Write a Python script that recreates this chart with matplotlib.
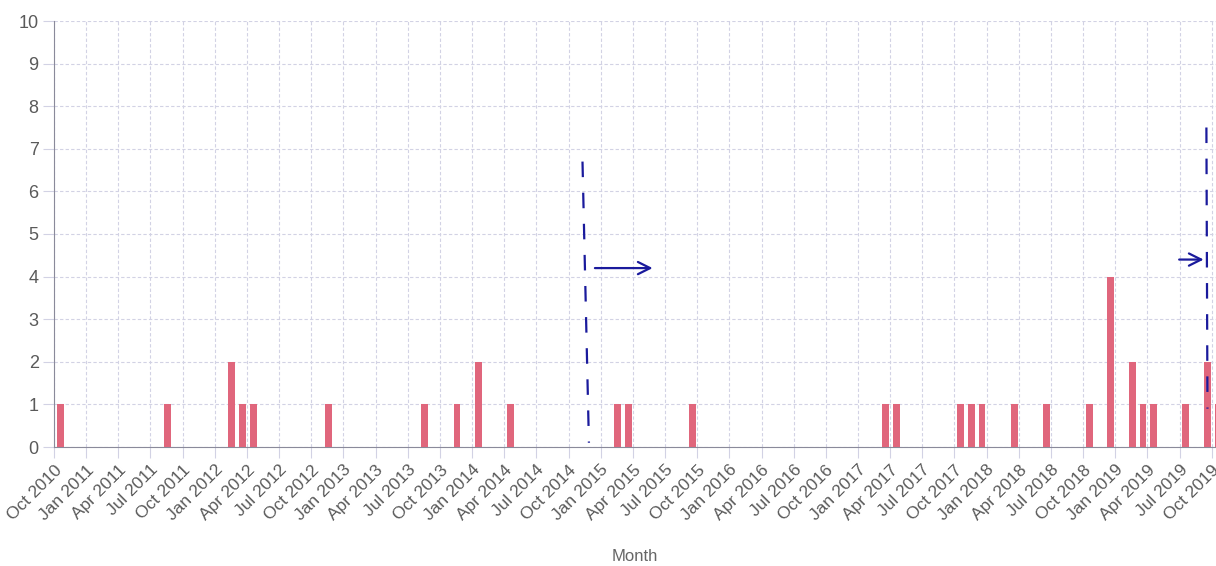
import matplotlib
matplotlib.use("Agg")
import matplotlib.pyplot as plt
import pandas as pd

plt.rcParams['font.family'] = ['Liberation Sans Narrow', 'Liberation Sans', 'DejaVu Sans']

# 막대 데이터 (0이 아닌 달만)
bar_months = ['2010-10', '2011-08', '2012-02', '2012-03', '2012-04', '2012-11',
              '2013-08', '2013-11', '2014-01', '2014-04', '2015-02', '2015-03',
              '2015-09', '2017-03', '2017-04', '2017-10', '2017-11', '2017-12',
              '2018-03', '2018-06', '2018-10', '2018-12', '2019-02', '2019-03',
              '2019-04', '2019-07', '2019-09', '2019-10']
bar_counts = [1, 1, 2, 1, 1, 1,
              1, 1, 2, 1, 1, 1,
              1, 1, 1, 1, 1, 1,
              1, 1, 1, 4, 2, 1,
              1, 1, 2, 1]

start_month = pd.Period('2010-10', freq='M')
tick_months = list(pd.period_range('2010-10', '2019-10', freq='M'))[::3]
tick_labels = [p.strftime('%b %Y') for p in tick_months]
y_ticks = list(range(0, 11))

# 손글씨 표시 (파란 점선 + 화살표)
marks_x = [[49.3, 49.9], [107.5, 107.6]]
marks_y = [[6.7, 0.1], [7.5, 0.9]]
arrows = [(50.2, 56.1, 4.2), (104.7, 107.5, 4.4)]

bar_color = '#e0667c'
grid_color = '#d2d2e4'
text_color = '#5a5a5a'

fig = plt.figure(figsize=(12.16, 5.66), dpi=100)
ax = fig.add_axes([54 / 1216, 119 / 566, 1162 / 1216, 426 / 566])

x_pos = [(pd.Period(m, freq='M') - start_month).n + 0.58 for m in bar_months]
ax.bar(x_pos, bar_counts, width=0.62, color=bar_color, zorder=3)

ax.set_xlim(0, 1162 / 10.72)
ax.set_ylim(0, 10)

tick_pos = [(p - start_month).n for p in tick_months]
ax.set_xticks(tick_pos)
ax.set_xticklabels(tick_labels, rotation=45, ha='right', va='top',
                   rotation_mode='anchor', fontsize=12.5, color=text_color)
ax.set_yticks(y_ticks)
ax.set_yticklabels([str(v) for v in y_ticks], fontsize=13, color=text_color)

ax.tick_params(axis='both', length=8, color=grid_color, width=0.8)
ax.tick_params(axis='x', pad=3)
ax.tick_params(axis='y', pad=3)

ax.grid(True, color=grid_color, linestyle=(0, (3, 2)), linewidth=0.8, zorder=0)
ax.set_axisbelow(True)

for side in ['top', 'right']:
    ax.spines[side].set_visible(False)
ax.spines['left'].set_color('#8a8a9a')
ax.spines['bottom'].set_color('#8a8a9a')

ax.set_xlabel('Month', fontsize=12, color='#666666', labelpad=18)

# 손글씨 주석
for xs, ys in zip(marks_x, marks_y):
    ax.plot(xs, ys, color='#1a1a9c', linewidth=1.6, linestyle=(0, (7, 7)), zorder=4)
for x0, x1, yy in arrows:
    ax.annotate('', xy=(x1, yy), xytext=(x0, yy),
                arrowprops=dict(arrowstyle='->', color='#1a1a9c', lw=1.6,
                                mutation_scale=22), zorder=4)

fig.savefig('out.png', dpi=100)
